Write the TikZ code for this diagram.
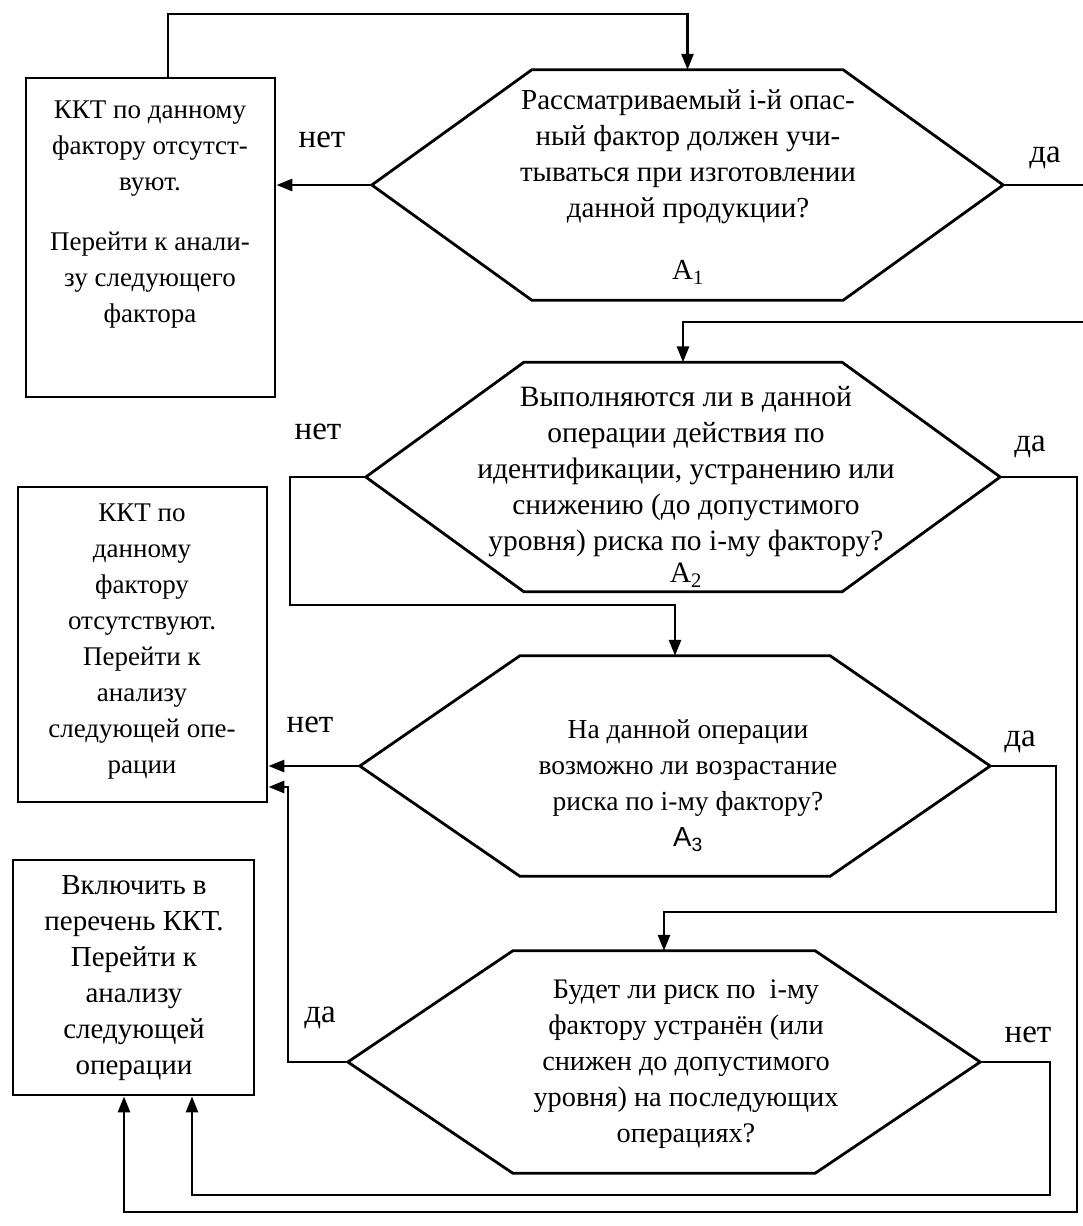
\documentclass[tikz,border=0pt]{standalone}
\usepackage{fontspec}
\setmainfont{Liberation Serif}
\newfontfamily\asans{Liberation Sans}
\usetikzlibrary{arrows.meta,calc}
\tikzset{
  ln/.style={line width=2.8pt, line join=miter},
  arr/.style={ln, -{Triangle[length=16pt,width=12pt]}},
  hexbox/.style={draw=none, inner sep=0pt},
  boxnode/.style={draw, line width=2.8pt, inner sep=0pt},
  txt/.style={align=center, font=\fontsize{27}{36}\selectfont, inner sep=0pt},
  fs/.style={font=\fontsize{#1}{36}\selectfont},
  lbl/.style={font=\fontsize{33}{36}\selectfont, inner sep=0pt},
}
\newcommand\hexpath[2]{\draw[ln] (#1.west) -- ($(#1.north west)+(#2,0)$) -- ($(#1.north east)+(-#2,0)$) -- (#1.east) -- ($(#1.south east)+(-#2,0)$) -- ($(#1.south west)+(#2,0)$) -- cycle;}
\begin{document}
\begin{tikzpicture}[x=1pt,y=-1pt]
\fill[white] (0,0) rectangle (1083,1226);
\useasboundingbox (0,0) rectangle (1083,1226);

% decision hexagons
\node[hexbox, minimum width=631pt, minimum height=230pt] (h1) at (687.5,185) {};
\node[hexbox, minimum width=634pt, minimum height=229pt] (h2) at (683,477) {};
\node[hexbox, minimum width=630pt, minimum height=220pt] (h3) at (675,766) {};
\node[hexbox, minimum width=632pt, minimum height=222pt] (h4) at (664,1062) {};
\hexpath{h1}{160}
\hexpath{h2}{158}
\hexpath{h3}{160}
\hexpath{h4}{165}

\node[txt, fs=29] (t1) at (688,187) {Рассматриваемый i-й опас-\\ный фактор должен учи-\\тываться при изготовлении\\данной продукции?\\[26pt]A\textsubscript{1}};
\node[txt, fs=29.5] (t2) at (686,487) {Выполняются ли в данной\\операции действия по\\идентификации, устранению или\\снижению (до допустимого\\уровня) риска по i-му фактору?\\[-4pt]A\textsubscript{2}};
\node[txt, fs=27.5] (t3) at (688,786) {На данной операции\\возможно ли возрастание\\риска по i-му фактору?\\{\asans A\textsubscript{3}}};
\node[txt, fs=28.3] (t4) at (686,1064) {Будет ли риск по\ \ i-му\\фактору устранён (или\\снижен до допустимого\\уровня) на последующих\\операциях?};

% result boxes
\node[boxnode, minimum width=249pt, minimum height=319pt] (b1) at (150.5,237.5) {};
\node[txt] (t5) at (150,215) {ККТ по данному\\фактору отсутст-\\вуют.\\[24pt]Перейти к анали-\\зу следующего\\фактора};
\node[boxnode, minimum width=249pt, minimum height=315pt] (b2) at (142.5,644.5) {};
\node[txt] (t6) at (142,642) {ККТ по\\данному\\фактору\\отсутствуют.\\Перейти к\\анализу\\следующей опе-\\рации};
\node[boxnode, minimum width=241pt, minimum height=235pt] (b3) at (133.5,977.5) {};
\node[txt, fs=29] (t7) at (134,978) {Включить в\\перечень ККТ.\\Перейти к\\анализу\\следующей\\операции};

% labels
\node[lbl] (l1) at (322,140) {нет};
\node[lbl] (l2) at (1045,158) {да};
\node[lbl] (l3) at (318,432) {нет};
\node[lbl] (l4) at (1030,447) {да};
\node[lbl] (l5) at (310,725) {нет};
\node[lbl] (l6) at (1020,742) {да};
\node[lbl] (l7) at (320,1018) {да};
\node[lbl] (l8) at (1028,1035) {нет};

% routing points
\coordinate (c1) at (168,14);
\coordinate (c2) at (1083,322);
\coordinate (c3) at (290,605);
\coordinate (c4) at (1077,1212);
\coordinate (c5) at (124,1212);
\coordinate (c6) at (1056,912);
\coordinate (c7) at (288,787);
\coordinate (c8) at (1050,1195);
\coordinate (c9) at (192,1195);

% connectors
\draw[arr] (b1.north -| c1) -- (c1) -| (h1.north);
\draw[arr] (h1.west) -- (h1.west -| b1.east);
\draw[ln] (h1.east) -- (h1.east -| c2);
\draw[arr] (c2) -| (h2.north);
\draw[arr] (h2.west) -| (c3) -| (h3.north);
\draw[arr] (h2.east) -| (c4) -- (c5) -- (c5 |- b3.south);
\draw[arr] (h3.west) -- (h3.west -| b2.east);
\draw[arr] (h3.east) -| (c6) -| (h4.north);
\draw[arr] (h4.west) -| (c7) -- (c7 -| b2.east);
\draw[arr] (h4.east) -| (c8) -- (c9) -- (c9 |- b3.south);
\end{tikzpicture}
\end{document}
